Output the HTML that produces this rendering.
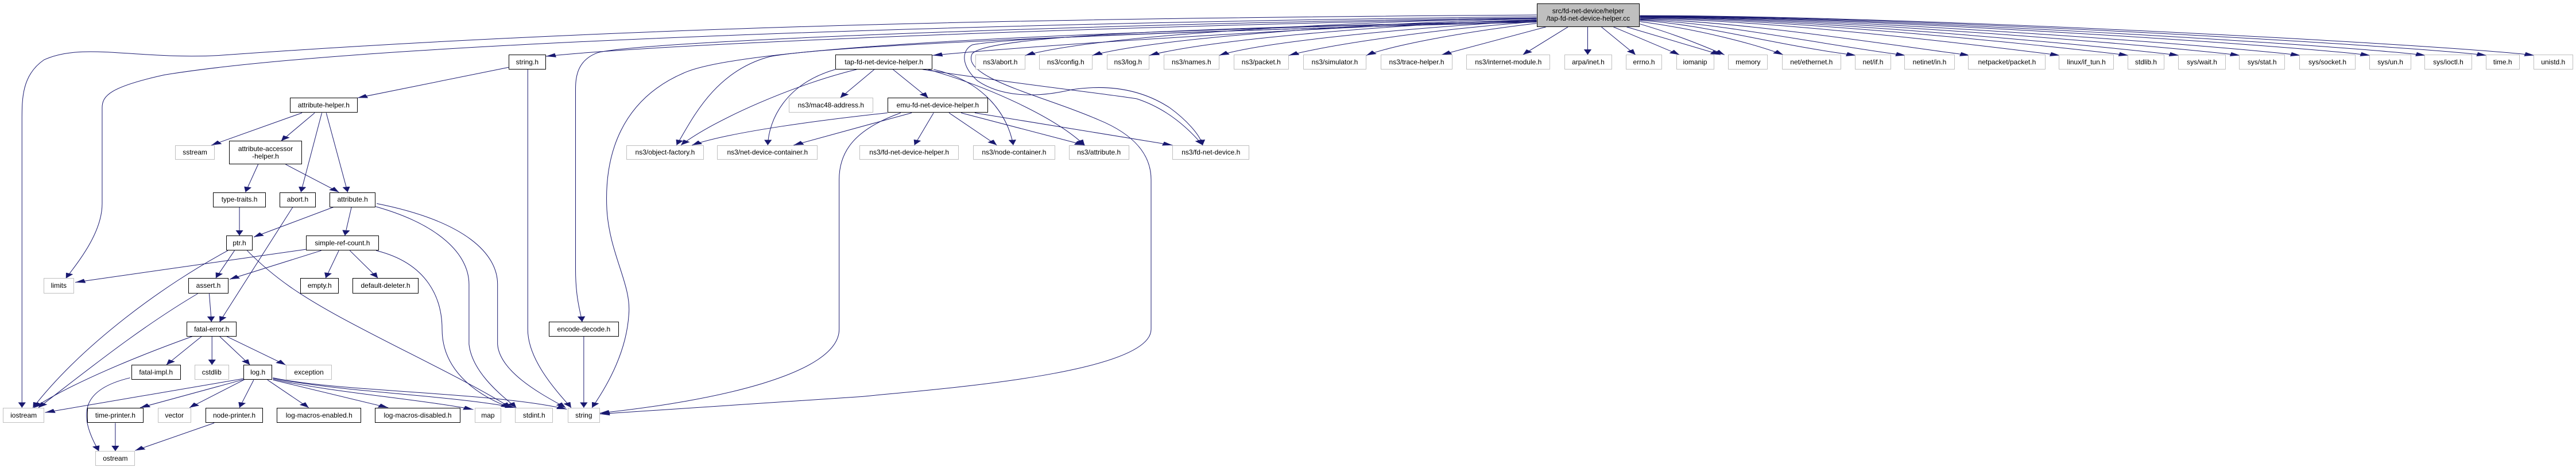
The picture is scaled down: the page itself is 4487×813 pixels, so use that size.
<!DOCTYPE html>
<html><head><meta charset="utf-8">
<style>
html,body{margin:0;padding:0;background:#fff;}
#c{position:relative;width:4487px;height:813px;overflow:hidden;background:#fff;}
svg{position:absolute;left:0;top:0;}
.n{position:absolute;left:calc(var(--x)*0.9566px);top:calc(var(--y)*0.5212px);width:calc((var(--x2) - var(--x))*0.9566px);height:calc((var(--y2) - var(--y))*0.5212px);box-sizing:border-box;border:1px solid #bfbfbf;background:#fff;display:flex;align-items:center;justify-content:center;text-align:center;font:12px/13px "Liberation Sans",Arial,sans-serif;color:#000;white-space:nowrap;}
.b{border-color:#000;}
.r{background:#bfbfbf;border:1px solid #000;}
</style></head><body><div id="c">
<svg width="4487" height="813" viewBox="0 0 4690.6 1560" preserveAspectRatio="none">
<defs><marker id="a" markerUnits="userSpaceOnUse" markerWidth="20" markerHeight="14" refX="18" refY="7" orient="auto"><path d="M0,0 L18,7 L0,14 z" fill="#191970"/></marker></defs>
<g fill="none" stroke="#191970" stroke-width="1" vector-effect="non-scaling-stroke" marker-end="url(#a)">
<path vector-effect="non-scaling-stroke" d="M2798,50 C2000,60 1200,80 400,185 C250,200 150,140 80,200 C40,250 40,330 40,400 L40,1362"/>
<path vector-effect="non-scaling-stroke" d="M2798,56 C2000,70 700,130 300,250 C200,290 186,320 186,360 L186,680 C186,780 140,880 120,930"/>
<path vector-effect="non-scaling-stroke" d="M2798,62 C2400,70 1300,130 994,188"/>
<path vector-effect="non-scaling-stroke" d="M2798,66 C2400,90 1900,150 1698,185"/>
<path vector-effect="non-scaling-stroke" d="M2798,60 C2200,70 1200,130 1090,175 C1050,200 1048,260 1048,300 L1048,900 C1048,1000 1058,1050 1060,1075"/>
<path vector-effect="non-scaling-stroke" d="M2798,70 C2300,90 1800,110 1770,180 C1750,260 1900,320 2000,400 C2080,460 2096,540 2096,600 L2096,1100 C2096,1250 1700,1300 1568,1325 C1350,1350 1200,1370 1092,1383"/>
<path vector-effect="non-scaling-stroke" d="M2798,74 C2200,100 1500,150 1400,190 C1300,240 1260,400 1232,485"/>
<path vector-effect="non-scaling-stroke" d="M2798,68 C2300,95 1400,130 1250,240 C1130,330 1100,520 1105,700 C1110,850 1150,950 1145,1050 C1140,1200 1090,1330 1078,1362"/>
<path vector-effect="non-scaling-stroke" d="M2798,72 C2300,100 1850,120 1770,150 C1750,170 1750,220 1780,270 C1820,320 1880,330 1950,300 C2020,280 2080,300 2130,360 C2160,400 2185,450 2190,485"/>
<path vector-effect="non-scaling-stroke" d="M2798,60 C2400,75 2000,120 1867,185"/>
<path vector-effect="non-scaling-stroke" d="M2798,62 C2450,80 2100,130 1989,185"/>
<path vector-effect="non-scaling-stroke" d="M2798,65 C2500,85 2200,135 2093,185"/>
<path vector-effect="non-scaling-stroke" d="M2798,68 C2550,95 2300,140 2220,185"/>
<path vector-effect="non-scaling-stroke" d="M2798,72 C2600,100 2420,150 2347,185"/>
<path vector-effect="non-scaling-stroke" d="M2798,78 C2650,110 2530,155 2488,185"/>
<path vector-effect="non-scaling-stroke" d="M2815,90 L2625,183"/>
<path vector-effect="non-scaling-stroke" d="M2855,90 L2773,183"/>
<path vector-effect="non-scaling-stroke" d="M2891,90 L2891,183"/>
<path vector-effect="non-scaling-stroke" d="M2916,90 L2978,183"/>
<path vector-effect="non-scaling-stroke" d="M2938,90 L3058,183"/>
<path vector-effect="non-scaling-stroke" d="M2962,90 L3133,183"/>
<path vector-effect="non-scaling-stroke" d="M2986,80 C3060,120 3110,160 3140,183"/>
<path vector-effect="non-scaling-stroke" d="M2986,72 C3100,100 3200,150 3247,183"/>
<path vector-effect="non-scaling-stroke" d="M2986,68 C3100,80 3230,150 3380,185"/>
<path vector-effect="non-scaling-stroke" d="M2986,66 C3130,75 3320,150 3470,185"/>
<path vector-effect="non-scaling-stroke" d="M2986,64 C3170,70 3440,150 3587,185"/>
<path vector-effect="non-scaling-stroke" d="M2986,62 C3220,65 3600,150 3751,185"/>
<path vector-effect="non-scaling-stroke" d="M2986,60 C3250,62 3720,150 3876,185"/>
<path vector-effect="non-scaling-stroke" d="M2986,58 C3280,60 3810,150 3968,185"/>
<path vector-effect="non-scaling-stroke" d="M2986,57 C3310,58 3920,150 4079,185"/>
<path vector-effect="non-scaling-stroke" d="M2986,56 C3340,56 4030,150 4189,185"/>
<path vector-effect="non-scaling-stroke" d="M2986,55 C3380,55 4160,150 4316,185"/>
<path vector-effect="non-scaling-stroke" d="M2986,54 C3410,54 4260,150 4417,185"/>
<path vector-effect="non-scaling-stroke" d="M2986,53 C3450,53 4370,150 4528,185"/>
<path vector-effect="non-scaling-stroke" d="M2986,52 C3480,52 4460,150 4615,185"/>
<path vector-effect="non-scaling-stroke" d="M926,225 L651,327"/>
<path vector-effect="non-scaling-stroke" d="M961,232 L961,1100 C961,1200 1010,1300 1040,1362"/>
<path vector-effect="non-scaling-stroke" d="M550,377 L385,485"/>
<path vector-effect="non-scaling-stroke" d="M573,377 L512,471"/>
<path vector-effect="non-scaling-stroke" d="M586,377 L548,642"/>
<path vector-effect="non-scaling-stroke" d="M594,377 L633,642"/>
<path vector-effect="non-scaling-stroke" d="M470,549 L447,642"/>
<path vector-effect="non-scaling-stroke" d="M520,549 L617,642"/>
<path vector-effect="non-scaling-stroke" d="M436,692 L436,787"/>
<path vector-effect="non-scaling-stroke" d="M533,692 L400,1075"/>
<path vector-effect="non-scaling-stroke" d="M607,692 L462,792"/>
<path vector-effect="non-scaling-stroke" d="M640,692 L628,787"/>
<path vector-effect="non-scaling-stroke" d="M684,690 C800,750 854,850 854,950 L854,1150 C860,1250 920,1330 940,1362"/>
<path vector-effect="non-scaling-stroke" d="M686,680 C850,740 906,850 906,950 L906,1150 C910,1250 1000,1330 1030,1362"/>
<path vector-effect="non-scaling-stroke" d="M415,837 C300,950 150,1150 60,1362"/>
<path vector-effect="non-scaling-stroke" d="M427,837 L393,929"/>
<path vector-effect="non-scaling-stroke" d="M450,837 C500,930 550,990 620,1060 C720,1160 850,1270 930,1362"/>
<path vector-effect="non-scaling-stroke" d="M557,833 L137,943"/>
<path vector-effect="non-scaling-stroke" d="M585,837 L418,933"/>
<path vector-effect="non-scaling-stroke" d="M617,837 L593,929"/>
<path vector-effect="non-scaling-stroke" d="M637,837 L688,929"/>
<path vector-effect="non-scaling-stroke" d="M685,837 C780,880 805,1000 805,1100 C805,1250 880,1330 930,1362"/>
<path vector-effect="non-scaling-stroke" d="M360,981 C250,1100 150,1250 70,1362"/>
<path vector-effect="non-scaling-stroke" d="M381,981 L385,1075"/>
<path vector-effect="non-scaling-stroke" d="M350,1124 C250,1190 130,1280 62,1362"/>
<path vector-effect="non-scaling-stroke" d="M367,1124 L303,1219"/>
<path vector-effect="non-scaling-stroke" d="M386,1124 L386,1219"/>
<path vector-effect="non-scaling-stroke" d="M400,1124 L455,1219"/>
<path vector-effect="non-scaling-stroke" d="M413,1124 L520,1219"/>
<path vector-effect="non-scaling-stroke" d="M237,1262 C150,1300 140,1380 180,1507"/>
<path vector-effect="non-scaling-stroke" d="M443,1265 L82,1378"/>
<path vector-effect="non-scaling-stroke" d="M443,1268 L255,1362"/>
<path vector-effect="non-scaling-stroke" d="M445,1268 L345,1362"/>
<path vector-effect="non-scaling-stroke" d="M462,1269 L436,1362"/>
<path vector-effect="non-scaling-stroke" d="M487,1269 L562,1362"/>
<path vector-effect="non-scaling-stroke" d="M497,1269 L707,1362"/>
<path vector-effect="non-scaling-stroke" d="M497,1266 C600,1310 750,1330 862,1368"/>
<path vector-effect="non-scaling-stroke" d="M497,1263 C620,1310 820,1320 938,1362"/>
<path vector-effect="non-scaling-stroke" d="M497,1262 C620,1310 900,1310 1032,1367"/>
<path vector-effect="non-scaling-stroke" d="M210,1413 L210,1507"/>
<path vector-effect="non-scaling-stroke" d="M390,1413 L246,1505"/>
<path vector-effect="non-scaling-stroke" d="M1063,1124 L1063,1362"/>
<path vector-effect="non-scaling-stroke" d="M1592,232 L1530,327"/>
<path vector-effect="non-scaling-stroke" d="M1560,232 C1450,280 1300,400 1240,485"/>
<path vector-effect="non-scaling-stroke" d="M1521,232 C1430,280 1400,400 1398,485"/>
<path vector-effect="non-scaling-stroke" d="M1626,232 L1690,327"/>
<path vector-effect="non-scaling-stroke" d="M1700,232 C1790,270 1835,380 1845,485"/>
<path vector-effect="non-scaling-stroke" d="M1690,232 C1800,290 1920,390 1975,485"/>
<path vector-effect="non-scaling-stroke" d="M1680,232 C1850,280 2000,310 2070,330 C2120,360 2160,420 2190,485"/>
<path vector-effect="non-scaling-stroke" d="M1616,377 C1500,400 1330,440 1260,485"/>
<path vector-effect="non-scaling-stroke" d="M1660,377 L1445,485"/>
<path vector-effect="non-scaling-stroke" d="M1700,377 L1665,485"/>
<path vector-effect="non-scaling-stroke" d="M1728,377 L1815,485"/>
<path vector-effect="non-scaling-stroke" d="M1750,377 L1975,485"/>
<path vector-effect="non-scaling-stroke" d="M1775,377 L2135,485"/>
<path vector-effect="non-scaling-stroke" d="M1640,377 C1560,430 1528,500 1528,600 L1528,1100 C1528,1250 1300,1340 1092,1380"/>
</g></svg>

<div class="n r" style="--x:2798;--y:11;--x2:2986;--y2:90">src/fd-net-device/helper<br>/tap-fd-net-device-helper.cc</div>
<div class="n b" style="--x:926;--y:183;--x2:994;--y2:232">string.h</div>
<div class="n b" style="--x:528;--y:327;--x2:651;--y2:377">attribute-helper.h</div>
<div class="n" style="--x:319;--y:485;--x2:391;--y2:534">sstream</div>
<div class="n b" style="--x:417;--y:471;--x2:550;--y2:549">attribute-accessor<br>-helper.h</div>
<div class="n b" style="--x:388;--y:642;--x2:484;--y2:692">type-traits.h</div>
<div class="n b" style="--x:509;--y:642;--x2:575;--y2:692">abort.h</div>
<div class="n b" style="--x:600;--y:642;--x2:684;--y2:692">attribute.h</div>
<div class="n b" style="--x:412;--y:787;--x2:460;--y2:837">ptr.h</div>
<div class="n b" style="--x:557;--y:787;--x2:690;--y2:837">simple-ref-count.h</div>
<div class="n" style="--x:79;--y:929;--x2:135;--y2:981">limits</div>
<div class="n b" style="--x:343;--y:929;--x2:416;--y2:981">assert.h</div>
<div class="n b" style="--x:547;--y:929;--x2:617;--y2:981">empty.h</div>
<div class="n b" style="--x:642;--y:929;--x2:762;--y2:981">default-deleter.h</div>
<div class="n b" style="--x:340;--y:1075;--x2:431;--y2:1124">fatal-error.h</div>
<div class="n b" style="--x:999;--y:1075;--x2:1127;--y2:1124">encode-decode.h</div>
<div class="n b" style="--x:239;--y:1219;--x2:329;--y2:1269">fatal-impl.h</div>
<div class="n" style="--x:354;--y:1219;--x2:417;--y2:1269">cstdlib</div>
<div class="n b" style="--x:443;--y:1219;--x2:496;--y2:1269">log.h</div>
<div class="n" style="--x:521;--y:1219;--x2:604;--y2:1269">exception</div>
<div class="n" style="--x:5;--y:1362;--x2:81;--y2:1413">iostream</div>
<div class="n b" style="--x:159;--y:1362;--x2:261;--y2:1413">time-printer.h</div>
<div class="n" style="--x:287;--y:1362;--x2:348;--y2:1413">vector</div>
<div class="n b" style="--x:374;--y:1362;--x2:479;--y2:1413">node-printer.h</div>
<div class="n b" style="--x:504;--y:1362;--x2:658;--y2:1413">log-macros-enabled.h</div>
<div class="n b" style="--x:683;--y:1362;--x2:838;--y2:1413">log-macros-disabled.h</div>
<div class="n" style="--x:864;--y:1362;--x2:913;--y2:1413">map</div>
<div class="n" style="--x:938;--y:1362;--x2:1007;--y2:1413">stdint.h</div>
<div class="n" style="--x:1034;--y:1362;--x2:1092;--y2:1413">string</div>
<div class="n" style="--x:174;--y:1507;--x2:246;--y2:1556">ostream</div>
<div class="n b" style="--x:1521;--y:183;--x2:1698;--y2:232">tap-fd-net-device-helper.h</div>
<div class="n" style="--x:1436;--y:327;--x2:1590;--y2:377">ns3/mac48-address.h</div>
<div class="n" style="--x:1140;--y:485;--x2:1282;--y2:534">ns3/object-factory.h</div>
<div class="n" style="--x:1306;--y:485;--x2:1489;--y2:534">ns3/net-device-container.h</div>
<div class="n b" style="--x:1616;--y:327;--x2:1799;--y2:377">emu-fd-net-device-helper.h</div>
<div class="n" style="--x:1565;--y:485;--x2:1746;--y2:534">ns3/fd-net-device-helper.h</div>
<div class="n" style="--x:1772;--y:485;--x2:1921;--y2:534">ns3/node-container.h</div>
<div class="n" style="--x:1946;--y:485;--x2:2056;--y2:534">ns3/attribute.h</div>
<div class="n" style="--x:2135;--y:485;--x2:2275;--y2:534">ns3/fd-net-device.h</div>
<div class="n" style="--x:1776;--y:183;--x2:1867;--y2:232">ns3/abort.h</div>
<div class="n" style="--x:1892;--y:183;--x2:1989;--y2:232">ns3/config.h</div>
<div class="n" style="--x:2015;--y:183;--x2:2093;--y2:232">ns3/log.h</div>
<div class="n" style="--x:2119;--y:183;--x2:2220;--y2:232">ns3/names.h</div>
<div class="n" style="--x:2246;--y:183;--x2:2347;--y2:232">ns3/packet.h</div>
<div class="n" style="--x:2373;--y:183;--x2:2488;--y2:232">ns3/simulator.h</div>
<div class="n" style="--x:2514;--y:183;--x2:2645;--y2:232">ns3/trace-helper.h</div>
<div class="n" style="--x:2670;--y:183;--x2:2823;--y2:232">ns3/internet-module.h</div>
<div class="n" style="--x:2849;--y:183;--x2:2935;--y2:232">arpa/inet.h</div>
<div class="n" style="--x:2961;--y:183;--x2:3026;--y2:232">errno.h</div>
<div class="n" style="--x:3052;--y:183;--x2:3121;--y2:232">iomanip</div>
<div class="n" style="--x:3147;--y:183;--x2:3219;--y2:232">memory</div>
<div class="n" style="--x:3245;--y:183;--x2:3352;--y2:232">net/ethernet.h</div>
<div class="n" style="--x:3378;--y:183;--x2:3443;--y2:232">net/if.h</div>
<div class="n" style="--x:3468;--y:183;--x2:3559;--y2:232">netinet/in.h</div>
<div class="n" style="--x:3584;--y:183;--x2:3725;--y2:232">netpacket/packet.h</div>
<div class="n" style="--x:3749;--y:183;--x2:3849;--y2:232">linux/if_tun.h</div>
<div class="n" style="--x:3874;--y:183;--x2:3941;--y2:232">stdlib.h</div>
<div class="n" style="--x:3966;--y:183;--x2:4053;--y2:232">sys/wait.h</div>
<div class="n" style="--x:4077;--y:183;--x2:4161;--y2:232">sys/stat.h</div>
<div class="n" style="--x:4187;--y:183;--x2:4289;--y2:232">sys/socket.h</div>
<div class="n" style="--x:4314;--y:183;--x2:4391;--y2:232">sys/un.h</div>
<div class="n" style="--x:4415;--y:183;--x2:4501;--y2:232">sys/ioctl.h</div>
<div class="n" style="--x:4526;--y:183;--x2:4588;--y2:232">time.h</div>
<div class="n" style="--x:4613;--y:183;--x2:4685;--y2:232">unistd.h</div>
</div></body></html>
